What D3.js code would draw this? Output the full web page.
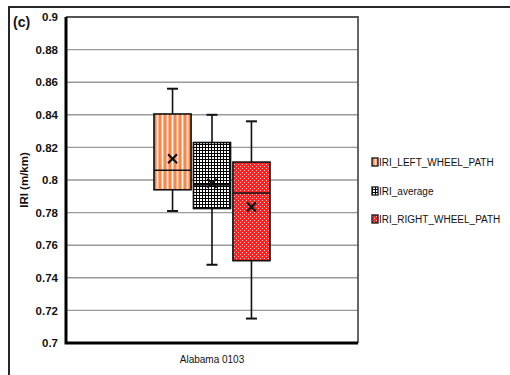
<!DOCTYPE html>
<html>
<head>
<meta charset="utf-8">
<script src="https://cdn.jsdelivr.net/npm/d3@7"></script>
<style>
  html, body { margin: 0; padding: 0; background: #fff; }
  svg { display: block; }
  text { font-family: "Liberation Sans", Arial, sans-serif; fill: #111; }
</style>
</head>
<body>
<svg id="chart" width="510" height="375"></svg>
<script>
// ---- data ----
const categories = ["Alabama 0103"];
const series = ["IRI_LEFT_WHEEL_PATH", "IRI_average", "IRI_RIGHT_WHEEL_PATH"];
const whiskerLow  = [0.781, 0.748, 0.715];
const q1          = [0.794, 0.7825, 0.7505];
const median      = [0.806, 0.797, 0.792];
const q3          = [0.8405, 0.823, 0.811];
const whiskerHigh = [0.856, 0.840, 0.836];
const means       = [0.813, 0.798, 0.7835];
const yTicks      = [0.7, 0.72, 0.74, 0.76, 0.78, 0.8, 0.82, 0.84, 0.86, 0.88, 0.9];
const yTickLabels = ["0.7", "0.72", "0.74", "0.76", "0.78", "0.8", "0.82", "0.84", "0.86", "0.88", "0.9"];
const yTitle = "IRI (m/km)";
const panelLabel = "(c)";

// ---- layout ----
const svg = d3.select("#chart");
const plot = { left: 66, top: 17, right: 358, bottom: 343 };

const y = d3.scaleLinear().domain([0.7, 0.9]).range([plot.bottom, plot.top]);
const xCat = d3.scaleBand().domain(categories).range([plot.left, plot.right])
  .paddingInner(0).paddingOuter(0.7586);
const xSer = d3.scaleBand().domain(series).range([0, xCat.bandwidth()])
  .paddingInner(0.06).paddingOuter(0);

// ---- patterns ----
const defs = svg.append("defs");
const pOr = defs.append("pattern").attr("id", "pat0").attr("patternUnits", "userSpaceOnUse")
  .attr("width", 5).attr("height", 5);
pOr.append("rect").attr("width", 5).attr("height", 5).attr("fill", "#fbb088");
pOr.append("rect").attr("x", 0).attr("width", 2).attr("height", 5).attr("fill", "#f5884a");
pOr.append("rect").attr("x", 3).attr("width", 1).attr("height", 5).attr("fill", "#fff3ea");

const pCk = defs.append("pattern").attr("id", "pat1").attr("patternUnits", "userSpaceOnUse")
  .attr("width", 3).attr("height", 3);
pCk.append("rect").attr("width", 3).attr("height", 3).attr("fill", "#000");
pCk.append("rect").attr("x", 1).attr("y", 1).attr("width", 2).attr("height", 2).attr("fill", "#fff");

const pRd = defs.append("pattern").attr("id", "pat2").attr("patternUnits", "userSpaceOnUse")
  .attr("width", 4).attr("height", 4);
pRd.append("rect").attr("width", 4).attr("height", 4).attr("fill", "#ff2222");
pRd.append("rect").attr("x", 0).attr("y", 0).attr("width", 1).attr("height", 1).attr("fill", "#ffc4c4");
pRd.append("rect").attr("x", 2).attr("y", 2).attr("width", 1).attr("height", 1).attr("fill", "#ffc4c4");

const fills = ["url(#pat0)", "url(#pat1)", "url(#pat2)"];

// ---- outer frame ----
svg.append("rect").attr("x", 9).attr("y", 7).attr("width", 700).attr("height", 700)
  .attr("fill", "none").attr("stroke", "#111").attr("stroke-width", 1.8);

// ---- gridlines ----
svg.append("g").selectAll("line").data(yTicks.slice(1, -1)).join("line")
  .attr("x1", plot.left).attr("x2", plot.right)
  .attr("y1", d => y(d)).attr("y2", d => y(d))
  .attr("stroke", "#999").attr("stroke-width", 1.4);

// plot frame top/right
svg.append("path")
  .attr("d", `M${plot.left},${plot.top}H${plot.right}V${plot.bottom}`)
  .attr("fill", "none").attr("stroke", "#555").attr("stroke-width", 1.8);

// ---- y axis ----
const yAxis = d3.axisLeft(y).tickValues(yTicks).tickSize(0).tickPadding(8)
  .tickFormat((d, i) => yTickLabels[i]);
const gy = svg.append("g").attr("transform", `translate(${plot.left},0)`).call(yAxis);
gy.select(".domain").remove();
gy.selectAll("text").style("font-family", "'Liberation Sans', Arial, sans-serif")
  .style("font-size", "11.5px").style("font-weight", "bold").attr("fill", "#111");

// ---- x axis ----
const xAxis = d3.axisBottom(xCat).tickSize(0).tickPadding(13);
const gx = svg.append("g").attr("transform", `translate(0,${plot.bottom})`).call(xAxis);
gx.select(".domain").remove();
gx.selectAll("text").style("font-family", "'Liberation Sans', Arial, sans-serif")
  .style("font-size", "10px").attr("fill", "#111");

// axis lines (thick black)
svg.append("path")
  .attr("d", `M${plot.left},${plot.top}V${plot.bottom}H${plot.right}`)
  .attr("fill", "none").attr("stroke", "#000").attr("stroke-width", 3);

// ---- boxes ----
const idx = series.map((s, i) => i);
const g = svg.append("g").attr("transform", `translate(${xCat(categories[0])},0)`);
const cx = i => xSer(series[i]) + xSer.bandwidth() / 2;
const capW = 11;

// whiskers
g.selectAll(".wk").data(idx).join("line").attr("class", "wk")
  .attr("x1", cx).attr("x2", cx)
  .attr("y1", i => y(whiskerHigh[i])).attr("y2", i => y(whiskerLow[i]))
  .attr("stroke", "#111").attr("stroke-width", 1.6);
g.selectAll(".capH").data(idx).join("line").attr("class", "capH")
  .attr("x1", i => cx(i) - capW / 2).attr("x2", i => cx(i) + capW / 2)
  .attr("y1", i => y(whiskerHigh[i])).attr("y2", i => y(whiskerHigh[i]))
  .attr("stroke", "#111").attr("stroke-width", 2);
g.selectAll(".capL").data(idx).join("line").attr("class", "capL")
  .attr("x1", i => cx(i) - capW / 2).attr("x2", i => cx(i) + capW / 2)
  .attr("y1", i => y(whiskerLow[i])).attr("y2", i => y(whiskerLow[i]))
  .attr("stroke", "#111").attr("stroke-width", 2);

// boxes
g.selectAll(".box").data(idx).join("rect").attr("class", "box")
  .attr("x", i => xSer(series[i])).attr("width", xSer.bandwidth())
  .attr("y", i => y(q3[i])).attr("height", i => y(q1[i]) - y(q3[i]))
  .attr("fill", i => fills[i]).attr("stroke", "#111").attr("stroke-width", 1.6);

// median
g.selectAll(".med").data(idx).join("line").attr("class", "med")
  .attr("x1", i => xSer(series[i])).attr("x2", i => xSer(series[i]) + xSer.bandwidth())
  .attr("y1", i => y(median[i])).attr("y2", i => y(median[i]))
  .attr("stroke", "#111").attr("stroke-width", 1.6);

// mean markers
const xSym = d3.symbol().type(d3.symbolX).size(55);
g.selectAll(".mean").data(idx).join("path").attr("class", "mean")
  .attr("d", xSym)
  .attr("transform", i => `translate(${cx(i)},${y(means[i])})`)
  .attr("fill", "none").attr("stroke", "#111").attr("stroke-width", 2.2);

// ---- legend ----
const legend = svg.append("g").attr("transform", "translate(372,0)");
const legY = [162, 191, 219];
legend.selectAll("rect").data(idx).join("rect")
  .attr("x", 0).attr("y", i => legY[i] - 4).attr("width", 6).attr("height", 8)
  .attr("fill", i => fills[i]).attr("stroke", "#222").attr("stroke-width", 1.4);
legend.selectAll("text").data(idx).join("text")
  .attr("x", 7).attr("y", i => legY[i]).attr("dy", "0.35em")
  .style("font-size", "10px").text(i => series[i]);

// ---- titles ----
svg.append("text")
  .attr("transform", `translate(28,${(plot.top + plot.bottom) / 2}) rotate(-90)`)
  .attr("text-anchor", "middle")
  .style("font-size", "11.5px").style("font-weight", "bold")
  .text(yTitle);

svg.append("text").attr("x", 13).attr("y", 27)
  .style("font-size", "14px").style("font-weight", "bold")
  .text(panelLabel);
</script>
</body>
</html>
